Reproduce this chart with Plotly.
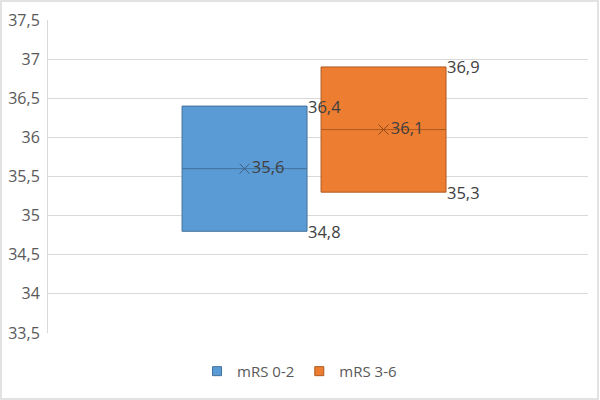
import plotly.graph_objects as go

groups = ["mRS 0-2", "mRS 3-6"]
q1 = [34.8, 35.3]
median = [35.6, 36.1]
q3 = [36.4, 36.9]
mean = [35.6, 36.1]
fills = ["#5B9BD5", "#ED7D31"]
edges = ["#41719C", "#AE5A21"]
marks = ["#3E5F80", "#8A4A20"]
tick_vals = [33.5, 34, 34.5, 35, 35.5, 36, 36.5, 37, 37.5]

FONT = "Open Sans"
FS = 16.5

def fmt(v):
    return f"{v:.1f}".replace(".", ",")

fig = go.Figure()
for i, g in enumerate(groups):
    fig.add_trace(go.Box(
        name=g, x=[g], q1=[q1[i]], median=[median[i]], q3=[q3[i]],
        lowerfence=[q1[i]], upperfence=[q3[i]],
        fillcolor=fills[i], line=dict(color=edges[i], width=1),
        whiskerwidth=0, boxpoints=False, showlegend=False, legendgroup=g,
    ))
# legend entries (square swatches, like the original)
for i, g in enumerate(groups):
    fig.add_trace(go.Scatter(
        name=g, x=[None], y=[None], mode="markers", legendgroup=g,
        marker=dict(symbol="square", size=9, color=fills[i], line=dict(color=edges[i], width=1)),
        showlegend=True, hoverinfo="skip",
    ))
for i, g in enumerate(groups):
    fig.add_trace(go.Scatter(
        x=[g], y=[mean[i]], mode="markers+text", text=[fmt(mean[i])],
        textposition="middle right",
        textfont=dict(family=FONT, size=FS, color="#404040"),
        marker=dict(symbol="x-thin-open", size=10, color=marks[i],
                    line=dict(color=marks[i], width=1)),
        showlegend=False, hoverinfo="skip",
    ))
    for v in (q1[i], q3[i]):
        fig.add_annotation(
            x=g, y=v, text=fmt(v), showarrow=False, xanchor="left", yanchor="middle",
            xshift=61, font=dict(family=FONT, size=FS, color="#404040"),
        )

fig.add_shape(type="rect", xref="paper", yref="paper",
              x0=-47/540, x1=550/540, y0=-66/313, y1=332/313,
              line=dict(color="#D9D9D9", width=1.5), fillcolor="rgba(0,0,0,0)", layer="below")

fig.update_layout(
    width=600, height=400,
    margin=dict(l=48, r=12, t=20, b=67, autoexpand=False),
    paper_bgcolor="white", plot_bgcolor="white",
    separators=", ",
    boxmode="overlay", boxgap=0.101, boxgroupgap=0,
    font=dict(family=FONT, size=FS, color="#595959"),
    xaxis=dict(type="category", range=[-1.414, 2.471], showticklabels=False,
               showgrid=False, zeroline=False, showline=False, ticks=""),
    yaxis=dict(range=[33.5, 37.5], tickvals=tick_vals, showgrid=True, gridcolor="#D9D9D9",
               gridwidth=1, zeroline=False, showline=True, linecolor="#D9D9D9", linewidth=1,
               ticks="", ticklen=0, ticklabelstandoff=4,
               tickfont=dict(family=FONT, size=16, color="#595959")),
    legend=dict(orientation="h", x=0.276, xanchor="left", y=-0.07, yanchor="top",
                font=dict(family=FONT, size=15, color="#595959"),
                itemwidth=30, tracegroupgap=0, bgcolor="rgba(0,0,0,0)"),
)

fig.write_html("out.html")
